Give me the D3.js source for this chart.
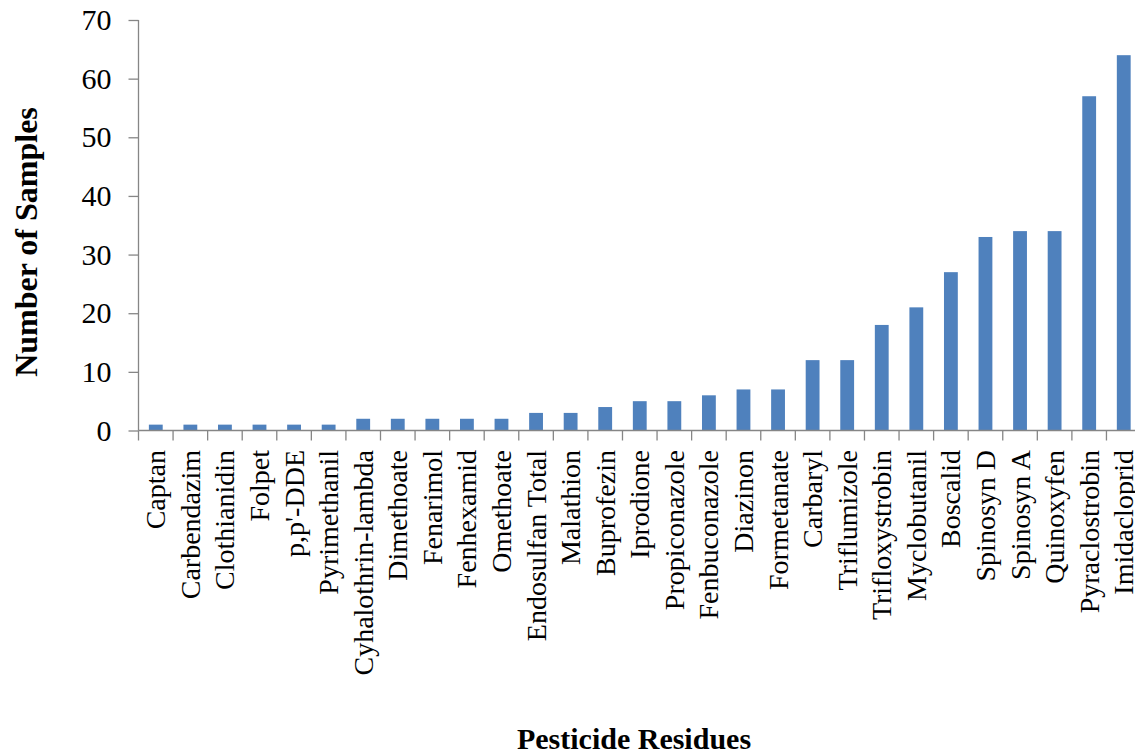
<!DOCTYPE html>
<html>
<head>
<meta charset="utf-8">
<script src="https://cdn.jsdelivr.net/npm/d3@7/dist/d3.min.js"></script>
<style>
  html, body { margin: 0; padding: 0; background: #fff; }
  svg { display: block; }
  text { font-family: "Liberation Serif", "Times New Roman", serif; fill: #000; }
</style>
</head>
<body>
<svg id="chart" width="1135" height="756"></svg>
<script>
// Pesticide residues and the number of samples in which each was detected
const categories = [
  "Captan", "Carbendazim", "Clothianidin", "Folpet", "p,p'-DDE", "Pyrimethanil",
  "Cyhalothrin-lambda", "Dimethoate", "Fenarimol", "Fenhexamid", "Omethoate",
  "Endosulfan Total", "Malathion", "Buprofezin", "Iprodione", "Propiconazole",
  "Fenbuconazole", "Diazinon", "Formetanate", "Carbaryl", "Triflumizole",
  "Trifloxystrobin", "Myclobutanil", "Boscalid", "Spinosyn D", "Spinosyn A",
  "Quinoxyfen", "Pyraclostrobin", "Imidacloprid"
];
const samples = [
  1, 1, 1, 1, 1, 1,
  2, 2, 2, 2, 2,
  3, 3, 4, 5, 5,
  6, 7, 7, 12, 12,
  18, 21, 27, 33, 34,
  34, 57, 64
];
const yTicks = [0, 10, 20, 30, 40, 50, 60, 70];

const svg = d3.select("#chart");
const axisColor = "#868686";
const barColor = "#4F81BD";

const plotLeft = 138.5, plotTop = 20, plotBottom = 430.5, step = 34.57;
const x = d3.scaleBand()
  .domain(categories)
  .range([plotLeft, plotLeft + step * categories.length])
  .paddingInner(0).paddingOuter(0);
const y = d3.scaleLinear().domain([0, 70]).range([plotBottom, plotTop]);

const barW = x.bandwidth() / 2.5;

// Bars
svg.append("g").selectAll("rect")
  .data(categories)
  .join("rect")
  .attr("x", (d) => x(d) + (x.bandwidth() - barW) / 2)
  .attr("y", (d, i) => y(samples[i]))
  .attr("width", barW)
  .attr("height", (d, i) => y(0) - y(samples[i]))
  .attr("fill", barColor);

// Y axis
const yAxis = svg.append("g")
  .attr("transform", `translate(${plotLeft},0)`)
  .call(d3.axisLeft(y).tickValues(yTicks).tickSize(10).tickPadding(17).tickFormat(d3.format("d")));
yAxis.select(".domain").attr("stroke", axisColor).attr("stroke-width", 1.3)
  .attr("d", `M0,${plotTop}V${plotBottom}`);
yAxis.selectAll(".tick line").attr("stroke", axisColor).attr("stroke-width", 1.3);
yAxis.selectAll(".tick text")
  .attr("font-size", 30)
  .attr("font-family", "'Liberation Serif', 'Times New Roman', serif")
  .attr("fill", "#000");

// X axis: baseline, ticks at category boundaries, rotated labels
const xg = svg.append("g");
xg.append("line")
  .attr("x1", plotLeft).attr("x2", 1135)
  .attr("y1", plotBottom).attr("y2", plotBottom)
  .attr("stroke", axisColor).attr("stroke-width", 1.3);
const bounds = d3.range(categories.length + 1).map((k) => x.range()[0] + k * x.step());
xg.selectAll("line.bt")
  .data(bounds)
  .join("line")
  .attr("class", "bt")
  .attr("x1", (d) => d).attr("x2", (d) => d)
  .attr("y1", plotBottom).attr("y2", plotBottom + 10)
  .attr("stroke", axisColor).attr("stroke-width", 1.3);
xg.selectAll("text.cat")
  .data(categories)
  .join("text")
  .attr("class", "cat")
  .attr("transform", (d) => `translate(${x(d) + x.bandwidth() / 2},450) rotate(-90)`)
  .attr("dy", "0.34em")
  .attr("text-anchor", "end")
  .attr("font-size", 28)
  .text((d) => d);

// Axis titles
svg.append("text")
  .attr("transform", "translate(37,242) rotate(-90)")
  .attr("text-anchor", "middle")
  .attr("font-size", 32)
  .attr("font-weight", "bold")
  .text("Number of Samples");

svg.append("text")
  .attr("x", 634).attr("y", 749)
  .attr("text-anchor", "middle")
  .attr("font-size", 30)
  .attr("font-weight", "bold")
  .text("Pesticide Residues");
</script>
</body>
</html>
